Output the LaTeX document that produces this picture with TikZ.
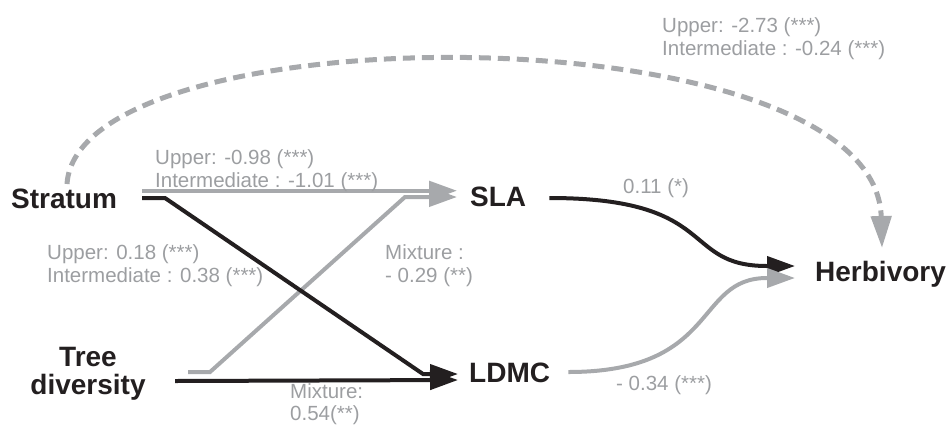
\documentclass[tikz,border=0pt]{standalone}
\usepackage{fontspec}
\setmainfont{Liberation Sans}
\usetikzlibrary{arrows.meta}
\definecolor{lgrey}{HTML}{A7A9AC}
\definecolor{tgrey}{HTML}{9C9EA1}
\definecolor{dblack}{HTML}{231F20}
\newcommand{\lblpair}[2]{\begin{tabular}[t]{@{}l@{}}#1\\#2\end{tabular}}
\begin{document}
\begin{tikzpicture}[x=1pt,y=-1pt,
  var/.style={font=\fontsize{28}{28.5}\selectfont\bfseries, text=dblack, inner sep=0pt},
  lbl/.style={font=\fontsize{20.5}{23}\selectfont, text=tgrey, inner sep=0pt, anchor=base west},
  lbltight/.style={lbl, font=\fontsize{20.5}{22}\selectfont},
  glink/.style={draw=lgrey, line width=4pt, -{Triangle[length=28pt,width=19pt]}},
  blink/.style={draw=dblack, line width=4pt, -{Triangle[length=28pt,width=19pt]}},
  dlink/.style={draw=lgrey, line width=5pt, dash pattern=on 12pt off 7pt, -{Triangle[length=32pt,width=20pt]}},
]
\useasboundingbox (0,0) rectangle (947,424);

% variables
\node[var, anchor=base west] (strat) at (11,208) {Stratum};
\node[var, anchor=base west] (sla) at (470,206) {SLA};
\node[var, anchor=base west] (ldmc) at (469,382) {LDMC};
\node[var, anchor=base west] (herb) at (815,281) {Herbivory};
\node[var, anchor=base] (tree) at (88,366) {\begin{tabular}[t]{@{}c@{}}Tree\\diversity\end{tabular}};

% connectors
\draw[glink] ([shift={(25,-17.3)}]strat.base east) -- ([shift={(-13,-15.3)}]sla.base west);
\draw[glink] ([shift={(42.4,6)}]tree.base east) -- (210,372) -- (405,197) -- ([shift={(-13,-9)}]sla.base west);
\draw[blink] ([shift={(25,-10)}]strat.base east) -- (165,198) -- (423,374) -- ([shift={(-11,-8)}]ldmc.base west);
\draw[blink] ([shift={(29.4,15)}]tree.base east) -- ([shift={(-11,-2)}]ldmc.base west);
\draw[blink] ([shift={(23,-8)}]sla.base east) .. controls (720,198) and (680,266) .. (767,266) -- ([shift={(-20,-15)}]herb.base west);
\draw[glink] ([shift={(18,-10)}]ldmc.base east) .. controls (720,372) and (694,278) .. (767,278) -- ([shift={(-20,-3)}]herb.base west);
\draw[dlink] ([shift={(56,-24)}]strat.base west) .. controls (78,10) and (876,10) .. ([shift={(67,-33)}]herb.base west);

% labels
\node[lbl] (l1) at (155,164) {\lblpair{Upper: -0.98 (***)}{Intermediate : -1.01 (***)}};
\node[lbl] (l2) at (47,259) {\lblpair{Upper: 0.18 (***)}{Intermediate : 0.38 (***)}};
\node[lbl] (l3) at (385,259) {\lblpair{Mixture :}{- 0.29 (**)}};
\node[lbltight] (l4) at (290,398) {\lblpair{Mixture:}{0.54(**)}};
\node[lbl] (l5) at (623,193) {0.11 (*)};
\node[lbl] (l6) at (616,390) {- 0.34 (***)};
\node[lbl] (l7) at (662,32) {\lblpair{Upper: -2.73 (***)}{Intermediate : -0.24 (***)}};
\end{tikzpicture}
\end{document}
